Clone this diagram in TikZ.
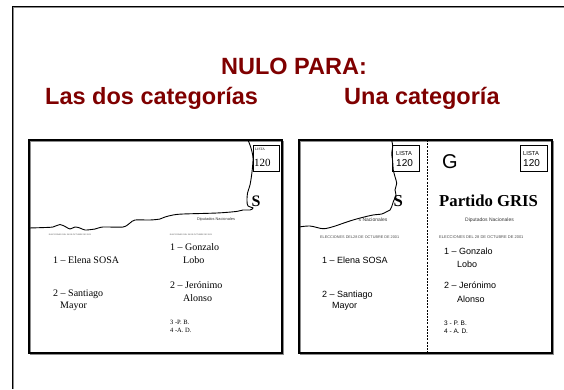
\documentclass[tikz,border=0pt]{standalone}
\usepackage{fontspec}
\setmainfont{Liberation Serif}
\newfontfamily\arial{Liberation Sans}
\definecolor{titlered}{HTML}{7F0000}
\begin{document}
\begin{tikzpicture}[x=1pt,y=-1pt,
  title/.style={font=\arial\bfseries\fontsize{23.5}{26}\selectfont, text=titlered, inner sep=0pt},
  panelbox/.style={draw=black, line width=2pt},
  panelshadow/.style={draw=black!45, line width=1.5pt},
  torn/.style={draw=black, line width=0.9pt},
  tx/.style={inner sep=0pt, anchor=base west},
  serifname/.style={tx, font=\fontsize{10}{12}\selectfont},
  sansname/.style={tx, font=\arial\fontsize{9}{11}\selectfont},
  serifsmall/.style={tx, font=\fontsize{6.5}{8}\selectfont},
  sanssmall/.style={tx, font=\arial\fontsize{6.5}{8}\selectfont},
  tiny/.style={inner sep=0pt, font=\arial\fontsize{3.9}{5}\selectfont, text=black!80},
  micro/.style={inner sep=0pt, font=\arial\fontsize{2}{3}\selectfont, text=black!70},
  listabox/.style={draw=black, line width=0.7pt},
  cut/.style={draw=black, line width=0.8pt, dash pattern=on 2pt off 1.2pt}
]
\useasboundingbox (0,0) rectangle (564,389);

% outer frame
\draw[black!45, line width=1pt] (13.8,389) -- (13.8,7.8) -- (564,7.8);
\draw[black, line width=1.6pt] (12.5,389) -- (12.5,6.5) -- (564,6.5);

% titles
\node[title, anchor=base] (nulo) at (294,74) {NULO PARA:};
\node[title, anchor=base west] (dos) at (45,104) {Las dos categorías};
\node[title, anchor=base west] (una) at (344,104) {Una categoría};

% ---------- left panel ----------
\draw[panelshadow] (30.5,141.5) rectangle (283.5,354.5);
\draw[panelbox] (29,140) rectangle (282,353);

\draw[listabox] (253,145) rectangle (279,171);
\node[inner sep=0pt, anchor=north west, font=\fontsize{3.5}{4}\selectfont] (llista) at (255,148) {LISTA};
\node[tx, font=\fontsize{11}{12}\selectfont] (l120) at (254,166) {120};
\node[inner sep=0pt, anchor=base west, font=\bfseries\fontsize{16}{18}\selectfont] (lS) at (251.5,206) {S};

\draw[torn] plot[smooth, tension=0.5] coordinates {
  (29,228) (45,227.5) (53,227) (60,224.5) (66,227) (70,229) (75,227) (80,228)
  (85,230) (95,229) (103,227) (123,227) (130,223) (135,220) (150,220)
  (160,219) (165,217) (173,215) (183,214) (217,213) (236,211.5) (243,210)
  (250,210) (253,208) (248,206) (247,201) (247.5,193) (250,185) (252,172)
  (253,158) (251,148) (248,140)};

\node[tiny, anchor=base] (ldip) at (216,220) {Diputados Nacionales};
\node[micro] (lel1) at (70,235) {ELECCIONES DEL 28 DE OCTUBRE DE 2001};
\node[micro] (lel2) at (191,235) {ELECCIONES DEL 28 DE OCTUBRE DE 2001};

\node[serifname] (la1) at (53,263) {1 – Elena SOSA};
\node[serifname] (la2) at (53,296) {2 – Santiago};
\node[serifname] (la2b) at (60,308) {Mayor};
\node[serifname] (lb1) at (170,250) {1 – Gonzalo};
\node[serifname] (lb1b) at (183,263) {Lobo};
\node[serifname] (lb2) at (170,288) {2 – Jerónimo};
\node[serifname] (lb2b) at (183,301) {Alonso};
\node[serifsmall] (lb3) at (170,324) {3 -P. B.};
\node[serifsmall] (lb4) at (170,332) {4 -A. D.};

% ---------- right panel ----------
\draw[panelshadow] (300.5,141.5) rectangle (553.5,354.5);
\draw[panelbox] (299,140) rectangle (552,353);
\draw[cut] (427,140) -- (427,353);

% left half (torn)
\draw[listabox] (392,145) rectangle (419,171);
\node[inner sep=0pt, anchor=base west, font=\arial\fontsize{5.8}{7}\selectfont] (rlista1) at (396,155) {LISTA};
\node[tx, font=\arial\fontsize{10}{12}\selectfont] (r1201) at (396,166) {120};
\node[inner sep=0pt, anchor=base east, font=\bfseries\fontsize{16.7}{18}\selectfont] (rS) at (403,206) {S};

\draw[torn] plot[smooth, tension=0.5] coordinates {
  (299,227) (310,226) (323,228.7) (333,226.7) (343,223.3) (353,220) (363,217.3)
  (373,215) (381.7,214) (386.7,211.7) (390,210) (391.7,206.7) (393.3,201.7)
  (396,195) (395,190) (396.7,183.3) (395,176.7) (393.3,170) (392.7,161.7)
  (391.7,153.3) (392.7,146.7) (391.7,140)};

\node[tiny, font=\arial\fontsize{5}{6}\selectfont, anchor=base east] (rdip1) at (387.5,221) {s Nacionales};
\node[micro, font=\arial\fontsize{3.8}{5}\selectfont, anchor=west] (rel1) at (320,237) {ELECCIONES DEL28 DE OCTUBRE DE 2001};

\node[sansname] (ra1) at (322,263) {1 – Elena SOSA};
\node[sansname] (ra2) at (322,297) {2 – Santiago};
\node[sansname] (ra2b) at (332,308) {Mayor};

% right half
\node[inner sep=0pt, anchor=base west, font=\arial\fontsize{20}{22}\selectfont] (rG) at (442,168) {G};
\draw[listabox] (520,145) rectangle (547,171);
\node[inner sep=0pt, anchor=base west, font=\arial\fontsize{5.8}{7}\selectfont] (rlista2) at (523,155) {LISTA};
\node[tx, font=\arial\fontsize{10}{12}\selectfont] (r1202) at (523,166) {120};
\node[inner sep=0pt, anchor=base west, font=\bfseries\fontsize{16.7}{18}\selectfont] (rpart) at (439,206) {Partido GRIS};
\node[tiny, font=\arial\fontsize{5}{6}\selectfont, anchor=base] (rdip2) at (489.5,221) {Diputados Nacionales};
\node[micro, font=\arial\fontsize{4}{5}\selectfont, anchor=west] (rel2) at (439,237) {ELECCIONES DEL 28 DE OCTUBRE DE 2001};

\node[sansname] (rb1) at (444,254) {1 – Gonzalo};
\node[sansname] (rb1b) at (457,267) {Lobo};
\node[sansname] (rb2) at (444,288) {2 – Jerónimo};
\node[sansname] (rb2b) at (457,302) {Alonso};
\node[sanssmall] (rb3) at (444,325) {3 - P. B.};
\node[sanssmall] (rb4) at (444,333) {4 - A. D.};
\end{tikzpicture}
\end{document}
